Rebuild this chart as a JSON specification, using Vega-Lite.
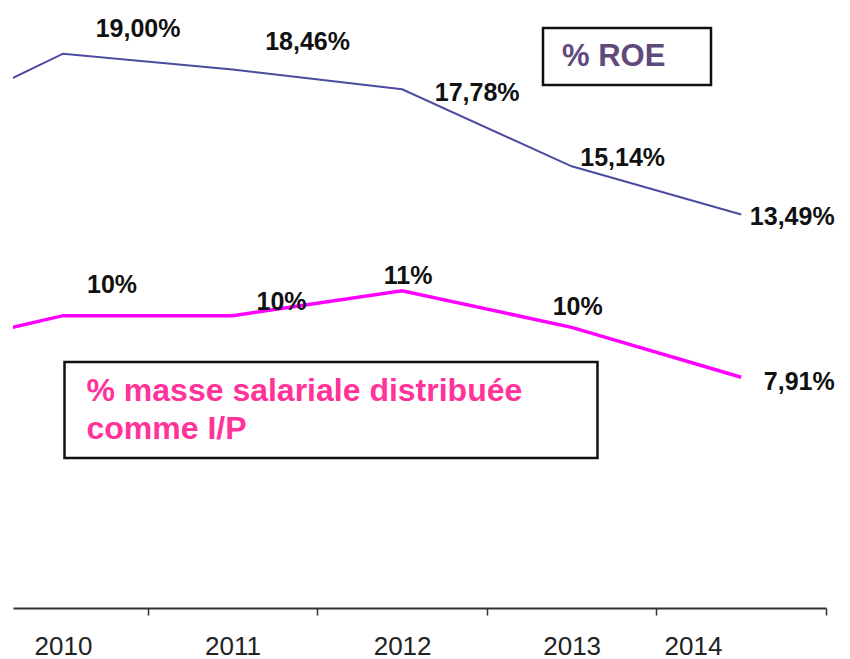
{
  "$schema": "https://vega.github.io/schema/vega-lite/v6.json",
  "width": 813,
  "height": 608,
  "autosize": {"type": "none"},
  "padding": {"left": 13, "top": 0, "right": 24, "bottom": 51},
  "background": "white",
  "config": {"view": {"stroke": null}, "font": "Liberation Sans"},
  "data": {
    "values": [
      {"year": 2009, "series": "% ROE", "value": 16.2, "label": null},
      {"year": 2010, "series": "% ROE", "value": 19.0, "label": "19,00%"},
      {"year": 2011, "series": "% ROE", "value": 18.46, "label": "18,46%"},
      {"year": 2012, "series": "% ROE", "value": 17.78, "label": "17,78%"},
      {"year": 2013, "series": "% ROE", "value": 15.14, "label": "15,14%"},
      {"year": 2014, "series": "% ROE", "value": 13.49, "label": "13,49%"},
      {"year": 2009, "series": "% masse salariale distribuée comme I/P", "value": 8.67, "label": null},
      {"year": 2010, "series": "% masse salariale distribuée comme I/P", "value": 10.02, "label": "10%"},
      {"year": 2011, "series": "% masse salariale distribuée comme I/P", "value": 10.02, "label": "10%"},
      {"year": 2012, "series": "% masse salariale distribuée comme I/P", "value": 10.87, "label": "11%"},
      {"year": 2013, "series": "% masse salariale distribuée comme I/P", "value": 9.62, "label": "10%"},
      {"year": 2014, "series": "% masse salariale distribuée comme I/P", "value": 7.91, "label": "7,91%"}
    ]
  },
  "encoding": {
    "x": {
      "field": "year",
      "type": "quantitative",
      "scale": {"domain": [2009.705, 2014.5], "nice": false, "zero": false},
      "axis": {
        "title": null,
        "grid": false,
        "values": [2010.5, 2011.5, 2012.5, 2013.5, 2014.5],
        "labelExpr": "format(datum.value - 0.5, 'd')",
        "labelOffset": {"condition": {"test": "datum.value > 2014", "value": -133}, "value": -84.8},
        "labelFlush": false,
        "labelBound": false,
        "labelOverlap": false,
        "labelFontSize": 26,
        "labelColor": "#222222",
        "labelPadding": 18,
        "domainColor": "#333333",
        "domainWidth": 2,
        "tickColor": "#333333",
        "tickWidth": 1.5,
        "tickSize": 7
      }
    },
    "y": {
      "field": "value",
      "type": "quantitative",
      "scale": {"domain": [0, 20.84], "nice": false, "zero": true},
      "axis": null
    }
  },
  "layer": [
    {
      "transform": [{"filter": "datum.series == '% ROE'"}],
      "mark": {"type": "line", "clip": true, "strokeWidth": 2},
      "encoding": {
        "color": {
          "field": "series",
          "type": "nominal",
          "scale": {"domain": ["% ROE"], "range": ["#4b4ba0"]},
          "legend": {
            "title": null,
            "orient": "none",
            "legendX": 530,
            "legendY": 28,
            "padding": 13,
            "strokeColor": "#111111",
            "labelColor": "#604a7b",
            "labelFontSize": 31,
            "labelFontWeight": "bold",
            "labelFont": "Liberation Sans",
            "labelLimit": 0,
            "labelOffset": -151,
            "symbolType": "circle",
            "symbolSize": 0,
            "symbolOffset": 126,
            "symbolOpacity": 0,
            "symbolStrokeWidth": 0,
            "encode": {"legend": {"update": {"strokeWidth": {"value": 2.5}}}}
          }
        }
      }
    },
    {
      "transform": [{"filter": "datum.series != '% ROE'"}],
      "mark": {"type": "line", "clip": true, "strokeWidth": 3.5},
      "encoding": {
        "color": {
          "field": "series",
          "type": "nominal",
          "scale": {"domain": ["% masse salariale distribuée comme I/P"], "range": ["#ff00ff"]},
          "legend": {
            "title": null,
            "orient": "none",
            "legendX": 51.5,
            "legendY": 362,
            "padding": 13,
            "strokeColor": "#111111",
            "labelExpr": "[slice(datum.label, 0, 28), slice(datum.label, 29)]",
            "labelColor": "#ff3399",
            "labelFontSize": 32,
            "labelFontWeight": "bold",
            "labelFont": "Liberation Sans",
            "labelLimit": 0,
            "labelOffset": -514,
            "symbolType": "circle",
            "symbolSize": 0,
            "symbolOffset": 491,
            "symbolOpacity": 0,
            "symbolStrokeWidth": 0,
            "encode": {
              "legend": {"update": {"strokeWidth": {"value": 2.5}}},
              "labels": {"update": {"lineHeight": {"value": 38}}}
            }
          }
        }
      }
    },
    {
      "transform": [{"filter": "datum.label != null"}],
      "mark": {
        "type": "text",
        "fontSize": 25,
        "fontWeight": "bold",
        "color": "#111111",
        "align": "center",
        "baseline": "middle",
        "dx": {"expr": "datum.series == '% ROE' ? (datum.year <= 2012 ? 75 : 51) : (datum.year <= 2011 ? 49 : (datum.year <= 2013 ? 6 : 58))"},
        "dy": {"expr": "datum.series == '% ROE' ? (datum.year == 2010 ? -25 : datum.year == 2011 ? -27 : datum.year == 2012 ? 4 : datum.year == 2013 ? -8 : 3) : (datum.year == 2010 ? -31 : datum.year == 2011 ? -14 : datum.year == 2012 ? -15 : datum.year == 2013 ? -20 : 5)"}
      },
      "encoding": {
        "text": {"field": "label", "type": "nominal"}
      }
    }
  ],
  "resolve": {"scale": {"color": "independent"}, "legend": {"color": "independent"}}
}
